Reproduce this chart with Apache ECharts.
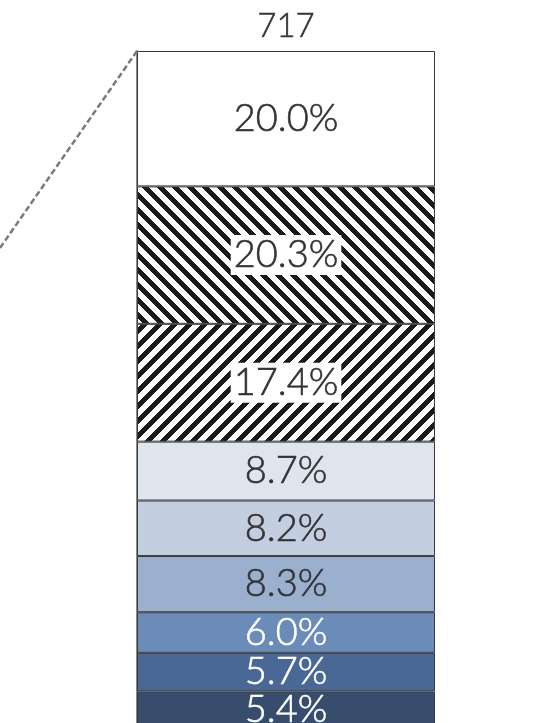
<!DOCTYPE html>
<html>
<head>
<meta charset="utf-8">
<style>
  html, body { margin: 0; padding: 0; background: #fff; overflow: hidden; }
  #chart { width: 547px; height: 728px; }
</style>
<script src="https://cdn.jsdelivr.net/npm/echarts@6/dist/echarts.min.js"></script>
</head>
<body>
<div id="chart"></div>
<script>
// Composition of the total, bottom segment first
const category = ['Total'];
const totalLabel = '717';
const segmentNames = ['s1', 's2', 's3', 's4', 's5', 's6', 's7', 's8', 's9'];
const segmentValues = [5.4, 5.7, 6.0, 8.3, 8.2, 8.7, 17.4, 20.3, 20.0];
const segmentFills = ['#384d6d', '#4a6896', '#6b8bb8', '#9bb0cf', '#c3cee0', '#dfe5ef', 'slash', 'backslash', '#ffffff'];
const labelColors = ['#ffffff', '#ffffff', '#ffffff', '#333333', '#333333', '#333333', '#333333', '#333333', '#333333'];

const FONT = 'Lato, "Open Sans", sans-serif';

// Crisp diagonal stripe tile (pixel based, no anti-aliasing seams)
function stripeTile(direction) {
  const s = 15, ink = 7;
  const c = document.createElement('canvas');
  c.width = s; c.height = s;
  const g = c.getContext('2d');
  const img = g.createImageData(s, s);
  for (let y = 0; y < s; y++) {
    for (let x = 0; x < s; x++) {
      const d = direction === 'backslash' ? (x - y) : (x + y);
      const on = (((d % s) + s) % s) < ink;
      const v = on ? 26 : 255;
      const o = (y * s + x) * 4;
      img.data[o] = v; img.data[o + 1] = v; img.data[o + 2] = v; img.data[o + 3] = 255;
    }
  }
  g.putImageData(img, 0, 0);
  return { image: c, repeat: 'repeat' };
}

function fillFor(f) {
  if (f === 'slash' || f === 'backslash') return stripeTile(f);
  return f;
}

const series = segmentValues.map((v, i) => {
  const hatched = segmentFills[i] === 'slash' || segmentFills[i] === 'backslash';
  return {
    name: segmentNames[i],
    type: 'bar',
    stack: 'total',
    barWidth: '100%',
    data: [v],
    itemStyle: { color: fillFor(segmentFills[i]), borderColor: '#3a3a3a', borderWidth: 1 },
    label: {
      show: true,
      position: 'inside',
      formatter: (p) => p.value.toFixed(1) + '%',
      color: labelColors[i],
      textBorderColor: labelColors[i],
      textBorderWidth: 0.6,
      fontFamily: FONT,
      fontWeight: 300,
      fontSize: 38,
      backgroundColor: hatched ? '#ffffff' : 'transparent',
      padding: hatched ? [2, 3, 0, 3] : 0
    },
    emphasis: { disabled: true },
    silent: true
  };
});

// Zero-height cap carrying the total above the stack
series.push({
  name: 'total',
  type: 'bar',
  stack: 'total',
  barWidth: '100%',
  data: [0],
  itemStyle: { color: 'transparent', borderWidth: 0 },
  label: {
    show: true,
    position: 'top',
    distance: 8,
    formatter: totalLabel,
    color: '#333333',
    textBorderColor: '#333333',
    textBorderWidth: 0.5,
    fontFamily: FONT,
    fontWeight: 300,
    fontSize: 33
  },
  silent: true
});

const chart = echarts.init(document.getElementById('chart'), null, { renderer: 'canvas' });
chart.setOption({
  animation: false,
  backgroundColor: '#ffffff',
  grid: { left: 137, right: 112, top: 51, bottom: 0 },
  xAxis: {
    type: 'category',
    data: category,
    show: false
  },
  yAxis: {
    type: 'value',
    min: 0,
    max: 100,
    axisLine: { show: true, lineStyle: { color: '#8a8a8a', width: 2 } },
    axisTick: { show: false },
    axisLabel: { show: false },
    splitLine: { show: false }
  },
  series: series
});

// Dashed connector leaving the top-left corner of the stack toward the left
const stackTop = segmentValues.reduce((a, b) => a + b, 0);
const topCenter = chart.convertToPixel({ xAxisIndex: 0, yAxisIndex: 0 }, [0, stackTop]);
const barHalf = chart.getModel().getComponent('grid').coordinateSystem.getRect().width / 2;
const x0 = topCenter[0] - barHalf;
const y0 = topCenter[1];
const slope = 197 / 137;
chart.setOption({
  graphic: [{
    type: 'line',
    silent: true,
    z: 10,
    shape: { x1: x0, y1: y0, x2: x0 - 200, y2: y0 + 200 * slope },
    style: { stroke: '#7a7a7a', lineWidth: 2.5, lineDash: [6, 3] }
  }]
});
</script>
</body>
</html>
